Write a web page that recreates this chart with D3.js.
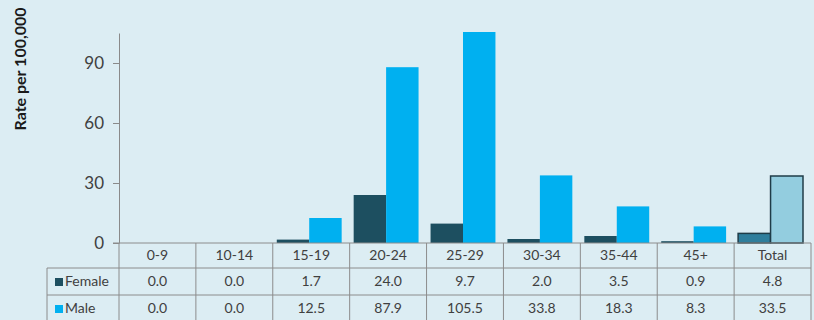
<!DOCTYPE html>
<html>
<head>
<meta charset="utf-8">
<script src="https://cdn.jsdelivr.net/npm/d3@7"></script>
<style>
  body { margin: 0; background: #dcedf3; }
  svg { display: block; font-family: Lato, "Open Sans", sans-serif; }
</style>
</head>
<body>
<svg width="814" height="320"></svg>
<script>
// age groups along the x axis
const ageGroups = ['0-9', '10-14', '15-19', '20-24', '25-29', '30-34', '35-44', '45+', 'Total']
// rate per 100,000
const female = [0.0, 0.0, 1.7, 24.0, 9.7, 2.0, 3.5, 0.9, 4.8]
const male = [0.0, 0.0, 12.5, 87.9, 105.5, 33.8, 18.3, 8.3, 33.5]
const yTicks = [0, 30, 60, 90]

const series = [
    {name: 'Female', values: female, color: '#1d4f60', totalColor: '#2f7e9c'},
    {name: 'Male', values: male, color: '#00b0f0', totalColor: '#93cddf'}
]

const svg = d3.select('svg')

const plotLeft = 119, plotRight = 811
const plotTop = 33, base = 243

let x = d3.scaleBand().domain(ageGroups).range([plotLeft, plotRight])
let y = d3.scaleLinear().domain([0, 105]).range([base, plotTop])

let sub = d3.scaleBand().domain(series.map(d => d.name))
    .range([4, x.bandwidth() - 8])

// bars
series.forEach(s => {
    svg.append('g').selectAll('rect')
    .data(ageGroups.map((g, i) => ({group: g, value: s.values[i]})))
    .enter()
    .append('rect')
    .attr('x', d => x(d.group) + sub(s.name))
    .attr('width', sub.bandwidth())
    .attr('y', d => y(d.value))
    .attr('height', d => base - y(d.value))
    .attr('fill', d => d.group == 'Total' ? s.totalColor : s.color)
    .attr('stroke', d => d.group == 'Total' ? '#1f3c48' : 'none')
    .attr('stroke-width', 1.5)
})

// y axis
let yAxis = d3.axisLeft(y).tickValues(yTicks).tickSize(6).tickSizeOuter(0).tickPadding(9)
let ga = svg.append('g').attr('transform', `translate(${plotLeft},0)`).call(yAxis)
ga.select('.domain').attr('stroke', '#8a8a8a')
ga.selectAll('.tick line').attr('stroke', '#8a8a8a')
ga.selectAll('.tick text')
.attr('fill', '#404040')
.style('font-size', '17px')
.style('font-family', 'Lato, "Open Sans", sans-serif')

svg.append('text')
.text('Rate per 100,000')
.attr('transform', 'translate(26,69) rotate(-90)')
.attr('text-anchor', 'middle')
.attr('font-weight', 'bold')
.attr('font-size', '16px')
.attr('fill', '#1a1a1a')

// data table under the chart
const rowY = [243, 268, 295, 322]
const labelLeft = 47
const lineColor = '#8c8c8c'
const cellFont = '14px'

let table = svg.append('g')

// horizontal lines
table.append('line')
.attr('x1', plotLeft - 6).attr('x2', plotRight).attr('y1', rowY[0]).attr('y2', rowY[0])
.attr('stroke', lineColor)
rowY.slice(1).forEach(yy => {
    table.append('line')
    .attr('x1', labelLeft).attr('x2', plotRight).attr('y1', yy).attr('y2', yy)
    .attr('stroke', lineColor)
})
// vertical lines
table.selectAll('line.col')
.data(ageGroups.map(g => x(g)).concat([plotRight]))
.enter()
.append('line')
.attr('class', 'col')
.attr('x1', d => d).attr('x2', d => d)
.attr('y1', rowY[0]).attr('y2', rowY[3])
.attr('stroke', lineColor)
table.append('line')
.attr('x1', labelLeft).attr('x2', labelLeft)
.attr('y1', rowY[1]).attr('y2', rowY[3])
.attr('stroke', lineColor)

// header labels
table.selectAll('text.head')
.data(ageGroups)
.enter()
.append('text')
.attr('class', 'head')
.attr('x', d => x(d) + x.bandwidth() / 2)
.attr('y', (rowY[0] + rowY[1]) / 2 + 1)
.attr('text-anchor', 'middle')
.attr('dominant-baseline', 'middle')
.attr('font-size', cellFont)
.attr('fill', '#404040')
.text(d => d)

series.forEach((s, r) => {
    let cy = (rowY[r + 1] + rowY[r + 2]) / 2 + 1
    table.append('rect')
    .attr('x', 55).attr('y', cy - 4.5)
    .attr('width', 8).attr('height', 8)
    .attr('fill', s.color)
    table.append('text')
    .attr('x', 65).attr('y', cy)
    .attr('dominant-baseline', 'middle')
    .attr('font-size', cellFont)
    .attr('fill', '#404040')
    .text(s.name)

    table.selectAll('text.v' + r)
    .data(s.values)
    .enter()
    .append('text')
    .attr('x', (d, i) => x(ageGroups[i]) + x.bandwidth() / 2)
    .attr('y', cy)
    .attr('text-anchor', 'middle')
    .attr('dominant-baseline', 'middle')
    .attr('font-size', cellFont)
    .attr('fill', '#404040')
    .text(d => d.toFixed(1))
})
</script>
</body>
</html>
